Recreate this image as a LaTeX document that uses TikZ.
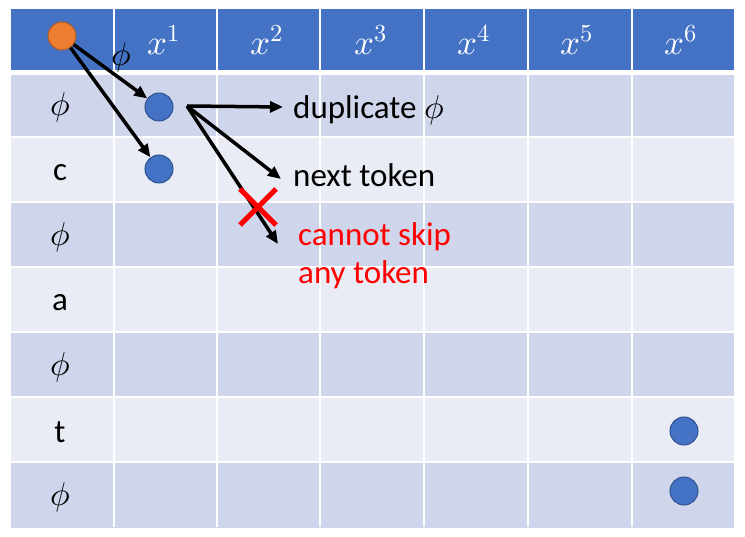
\documentclass[tikz,border=0pt]{standalone}
\usepackage{fontspec}
\usepackage{unicode-math}
\setmainfont{Carlito}
\setmathfont{Latin Modern Math}
\usetikzlibrary{arrows.meta}
\usetikzlibrary{positioning}
\definecolor{headblue}{HTML}{4472C4}
\definecolor{rowdark}{HTML}{CFD5EA}
\definecolor{rowlight}{HTML}{E9EBF5}
\definecolor{dotedge}{HTML}{2F528F}
\definecolor{startorange}{HTML}{ED7D31}
\definecolor{startedge}{HTML}{AE5A21}
\definecolor{skipred}{HTML}{FF0000}
\newcommand\colwidth{103.3}
\newcommand\rowheight{65}
\newcommand\bigtext{\fontsize{33}{40}\selectfont}
\newcommand\gridlines{
  \foreach \x in {114,217,320,424,528,632} {
    \draw[white,line width=2pt] (\x,9) -- (\x,527);
  }
  \foreach \y in {137,202,267,332,397,462} {
    \draw[white,line width=2pt] (11,\y) -- (734,\y);
  }
  \draw[white,line width=5pt] (11,73) -- (734,73);
}
\tikzset{
  dot/.style={circle,fill=headblue,draw=dotedge,line width=1pt,minimum size=28pt,inner sep=0pt},
  startdot/.style={dot,fill=startorange,draw=startedge},
  arr/.style={-{Triangle[length=13pt,width=11pt]},line width=3.5pt},
  txt/.style={font=\bigtext,inner sep=0pt},
  headtxt/.style={txt,text=white,font=\fontsize{35}{40}\selectfont},
  note/.style={txt,anchor=west}
}
\begin{document}
\begin{tikzpicture}[x=1pt,y=-1pt]
  \useasboundingbox (0,0) rectangle (745,537);
  % table
  \fill[headblue] (11,9) rectangle (734,73);
  \foreach \r in {1,...,7} {
    \ifodd\r
      \fill[rowdark] (11,{73+(\r-1)*\rowheight}) rectangle (734,{73+\r*\rowheight});
    \else
      \fill[rowlight] (11,{73+(\r-1)*\rowheight}) rectangle (734,{73+\r*\rowheight});
    \fi
  }
  \gridlines

  \foreach \c in {1,...,6} {
    \node[headtxt] (h\c) at ({164+(\c-1)*\colwidth},40) {$x^{\c}$};
  }
  \foreach \t [count=\r] in {$\phi$,c,$\phi$,a,$\phi$,t,$\phi$} {
    \node[txt] (r\r) at (60,{75+(\r-0.5)*\rowheight}) {\t};
  }

  % paths
  \node[startdot] (start) at (62,36) {};
  \node[dot] (d1) at (159,107) {};
  \node[dot] (d2) at (159,169) {};
  \node[dot] (d6) at (684,431) {};
  \node[dot] (d7) at (684,491) {};
  \node[txt] (phi) at (121,57) {$\phi$};

  \draw[arr] (start) -- (d1);
  \draw[arr] (start) -- (d2);

  \coordinate (fan) at (187,106);
  \node[note] (dup) at (293,110) {duplicate $\phi$};
  \node[note] (next) at (293,175) {next token};
  \node[note,text=skipred,align=left] (skip) at (298,256) {cannot skip\\[-2pt]any token};
  \coordinate (skipend) at (278,244);

  \draw[arr] (fan) -- ([xshift=-10pt,yshift=3pt]dup.west);
  \draw[arr] (fan) -- ([xshift=-12pt,yshift=-4pt]next.west);
  \draw[arr] (fan) -- (skipend);

  % cross
  \coordinate (cross) at (258,207);
  \draw[skipred,line width=5pt] ([shift={(-18,-18)}]cross) -- ([shift={(18,18)}]cross)
    ([shift={(-18,18)}]cross) -- ([shift={(18,-18)}]cross);
\end{tikzpicture}
\end{document}
